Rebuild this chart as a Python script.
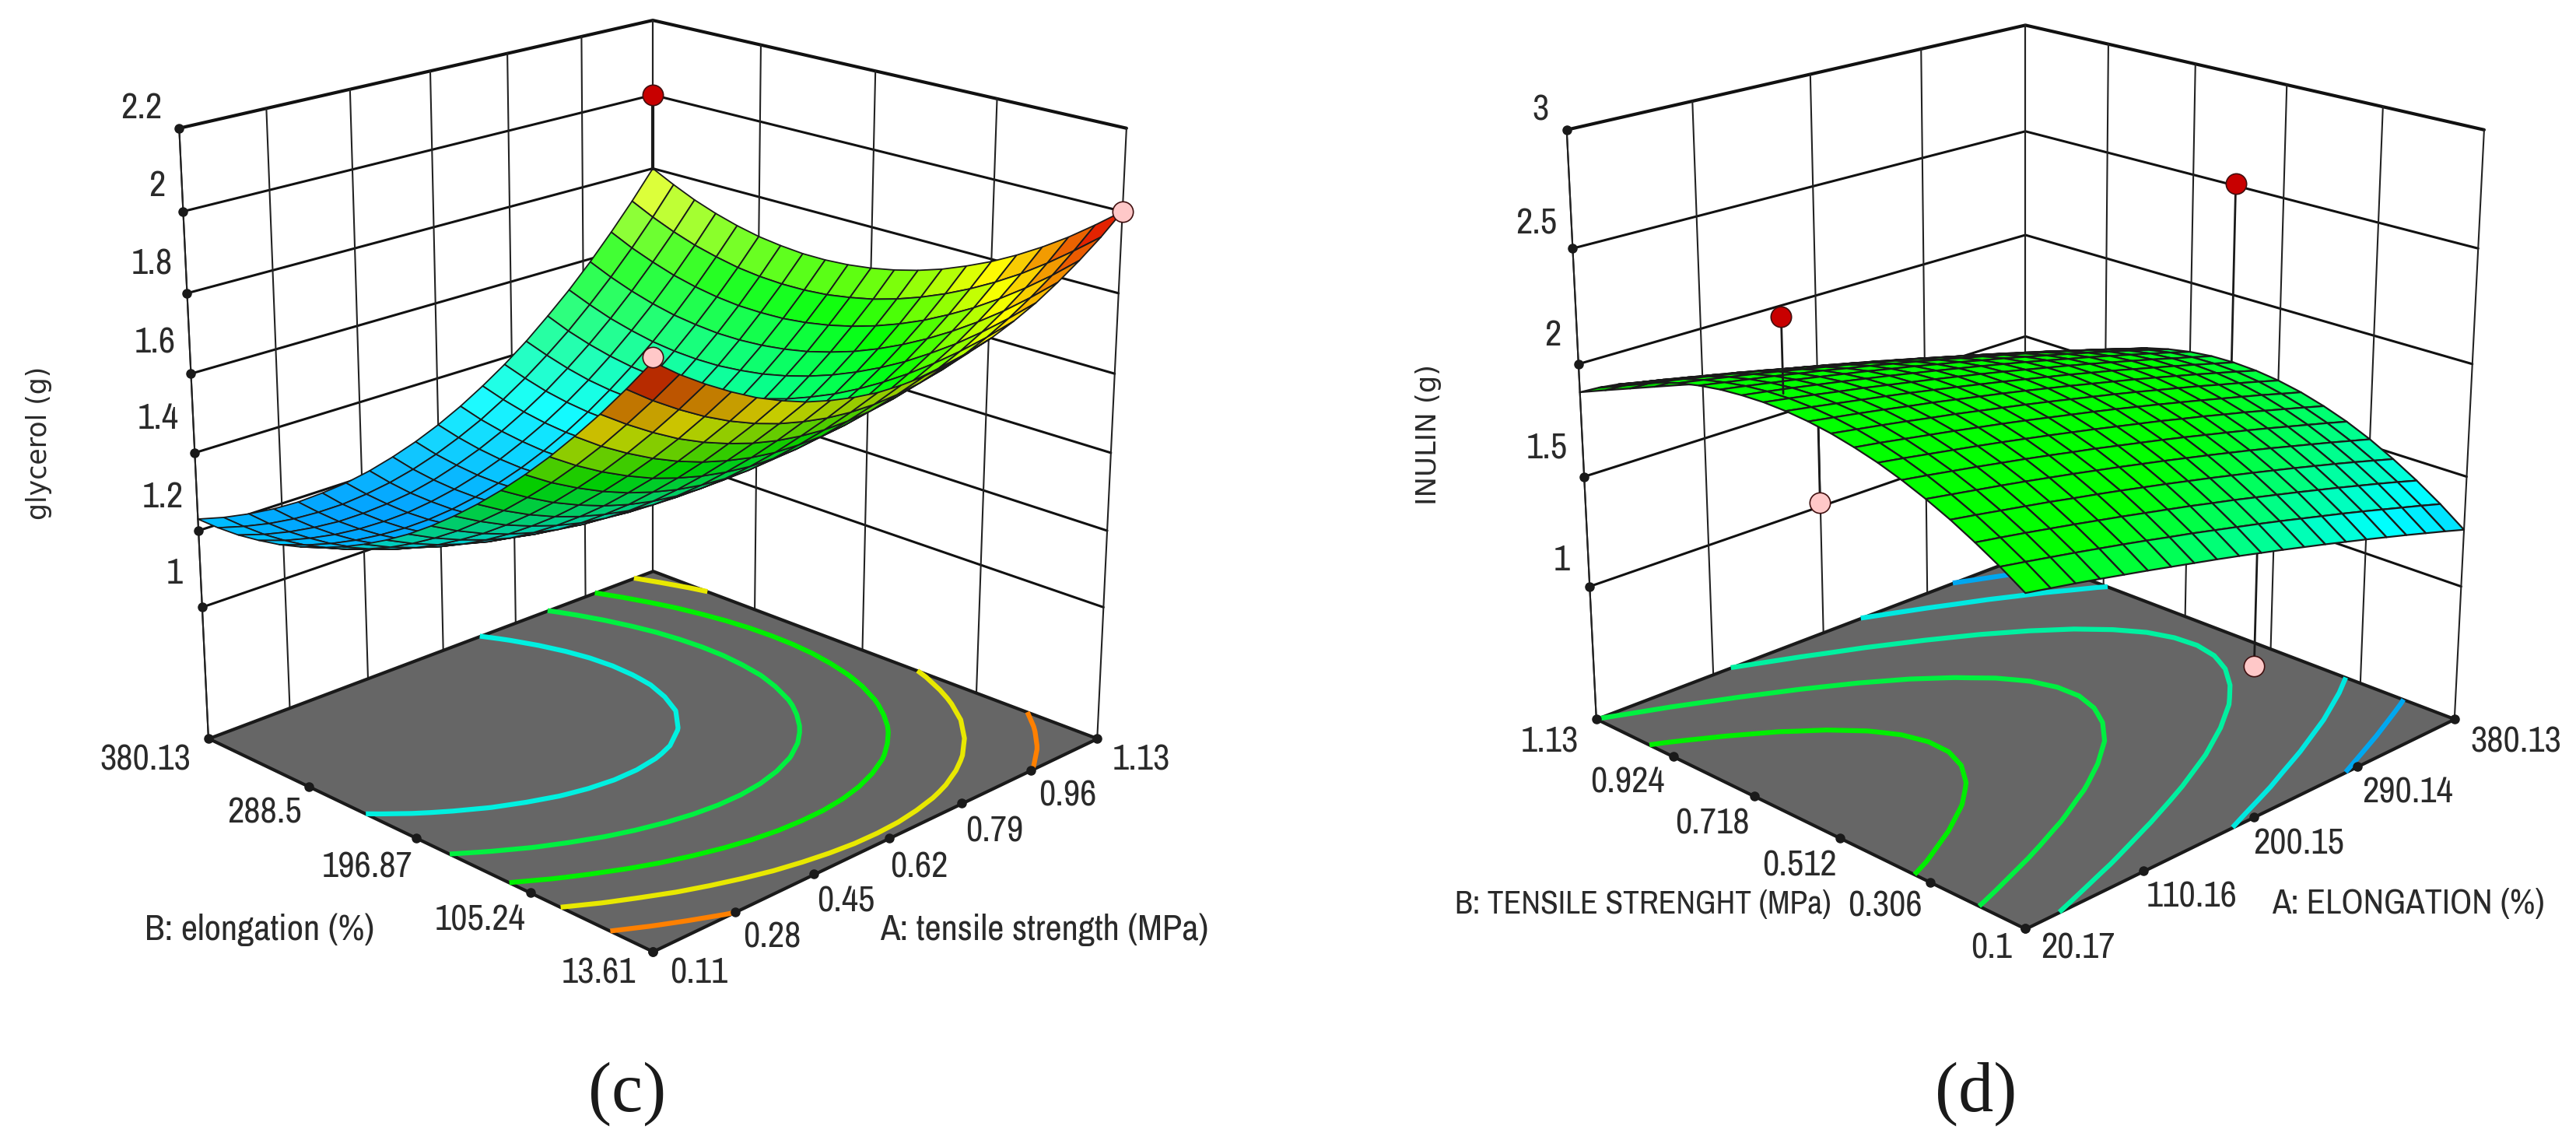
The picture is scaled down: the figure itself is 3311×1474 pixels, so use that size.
import numpy as np, matplotlib
matplotlib.use('Agg')
import matplotlib.pyplot as plt, seaborn as sns
from mpl_toolkits.mplot3d.art3d import Poly3DCollection

# ---------- panel (c) data ----------
C_A_TICKS = [0.11, 0.28, 0.45, 0.62, 0.79, 0.96, 1.13]
C_A_LABELS = ['0.11', '0.28', '0.45', '0.62', '0.79', '0.96', '1.13']
C_B_TICKS = [13.61, 105.24, 196.87, 288.5, 380.13]
C_B_LABELS = ['13.61', '105.24', '196.87', '288.5', '380.13']
C_Z_TICKS = [1, 1.2, 1.4, 1.6, 1.8, 2, 2.2]
C_Z_LABELS = ['1', '1.2', '1.4', '1.6', '1.8', '2', '2.2']
C_LEVELS = [1.33, 1.47, 1.6, 1.73, 1.87]
C_SURFACE = [
 [2.000,1.954,1.914,1.878,1.846,1.820,1.798,1.782,1.770,1.762,1.760,1.762,1.770,1.782,1.798,1.820,1.846,1.878,1.914,1.954,2.000],
 [1.922,1.878,1.839,1.804,1.774,1.749,1.729,1.714,1.703,1.697,1.696,1.700,1.709,1.722,1.740,1.763,1.791,1.824,1.861,1.904,1.951],
 [1.848,1.806,1.768,1.734,1.706,1.683,1.664,1.650,1.641,1.636,1.637,1.642,1.652,1.667,1.687,1.711,1.740,1.774,1.813,1.857,1.905],
 [1.779,1.737,1.701,1.669,1.642,1.620,1.603,1.590,1.582,1.580,1.581,1.588,1.600,1.616,1.637,1.663,1.693,1.729,1.769,1.814,1.864],
 [1.713,1.673,1.638,1.608,1.582,1.562,1.546,1.535,1.528,1.527,1.530,1.538,1.551,1.569,1.591,1.619,1.651,1.688,1.729,1.776,1.827],
 [1.652,1.613,1.580,1.551,1.527,1.508,1.493,1.483,1.478,1.478,1.483,1.493,1.507,1.526,1.550,1.579,1.612,1.651,1.694,1.742,1.794],
 [1.595,1.558,1.525,1.498,1.475,1.457,1.444,1.436,1.433,1.434,1.440,1.451,1.467,1.487,1.513,1.543,1.578,1.618,1.662,1.712,1.766],
 [1.542,1.506,1.475,1.449,1.428,1.412,1.400,1.393,1.391,1.394,1.401,1.414,1.431,1.453,1.480,1.511,1.548,1.589,1.635,1.686,1.741],
 [1.493,1.459,1.429,1.405,1.385,1.370,1.360,1.354,1.354,1.358,1.367,1.381,1.399,1.423,1.451,1.484,1.522,1.564,1.612,1.664,1.721],
 [1.448,1.415,1.387,1.364,1.346,1.332,1.323,1.319,1.320,1.326,1.336,1.352,1.372,1.396,1.426,1.460,1.500,1.544,1.593,1.646,1.705],
 [1.407,1.376,1.350,1.328,1.311,1.299,1.291,1.289,1.291,1.298,1.310,1.327,1.348,1.374,1.405,1.441,1.482,1.527,1.578,1.633,1.693],
 [1.371,1.341,1.316,1.296,1.280,1.269,1.264,1.262,1.266,1.275,1.288,1.306,1.329,1.356,1.389,1.426,1.468,1.515,1.567,1.623,1.685],
 [1.339,1.310,1.287,1.268,1.254,1.244,1.240,1.240,1.245,1.255,1.270,1.289,1.314,1.343,1.377,1.415,1.459,1.507,1.560,1.618,1.681],
 [1.311,1.284,1.261,1.244,1.231,1.223,1.220,1.222,1.228,1.240,1.256,1.277,1.303,1.333,1.368,1.409,1.453,1.503,1.558,1.617,1.681],
 [1.287,1.261,1.240,1.224,1.213,1.206,1.205,1.208,1.216,1.229,1.246,1.269,1.296,1.328,1.364,1.406,1.452,1.503,1.559,1.620,1.686],
 [1.267,1.243,1.223,1.209,1.199,1.194,1.194,1.198,1.207,1.222,1.241,1.264,1.293,1.326,1.365,1.407,1.455,1.508,1.565,1.627,1.694],
 [1.251,1.228,1.210,1.197,1.189,1.185,1.186,1.192,1.203,1.219,1.239,1.264,1.294,1.329,1.369,1.413,1.462,1.516,1.575,1.639,1.707],
 [1.240,1.218,1.202,1.190,1.183,1.181,1.183,1.191,1.203,1.220,1.242,1.269,1.300,1.336,1.377,1.423,1.474,1.529,1.589,1.654,1.724],
 [1.232,1.212,1.197,1.187,1.181,1.181,1.185,1.193,1.207,1.226,1.249,1.277,1.310,1.347,1.390,1.437,1.489,1.546,1.608,1.674,1.745],
 [1.229,1.211,1.197,1.188,1.184,1.184,1.190,1.200,1.215,1.235,1.260,1.289,1.324,1.363,1.407,1.455,1.509,1.567,1.630,1.698,1.771],
 [1.230,1.213,1.201,1.193,1.190,1.193,1.199,1.211,1.228,1.249,1.275,1.306,1.342,1.382,1.427,1.478,1.532,1.592,1.657,1.726,1.800],
]
C_RED_A, C_RED_B, C_RED_Z, C_RED_BASE = 1.13, 380.13, 2.0, 1.80
C_PINK_A = [0.11, 1.13]
C_PINK_B = [13.61, 13.61]
C_PINK_Z = [2.01, 2.0]

# ---------- panel (d) data ----------
D_A_TICKS = [20.17, 110.16, 200.15, 290.14, 380.13]
D_A_LABELS = ['20.17', '110.16', '200.15', '290.14', '380.13']
D_B_TICKS = [0.1, 0.306, 0.512, 0.718, 0.924, 1.13]
D_B_LABELS = ['0.1', '0.306', '0.512', '0.718', '0.924', '1.13']
D_Z_TICKS = [1, 1.5, 2, 2.5, 3]
D_Z_LABELS = ['1', '1.5', '2', '2.5', '3']
D_LEVELS = [1.42, 1.56, 1.73, 1.876, 2.007]
D_SURFACE = [
 [1.758,1.738,1.718,1.697,1.675,1.653,1.630,1.607,1.584,1.560,1.535,1.510,1.484,1.458,1.431,1.404,1.376,1.348,1.319,1.290,1.260],
 [1.823,1.804,1.784,1.764,1.743,1.722,1.700,1.677,1.655,1.631,1.607,1.583,1.558,1.532,1.506,1.480,1.453,1.425,1.397,1.369,1.340],
 [1.881,1.863,1.844,1.824,1.804,1.783,1.762,1.740,1.718,1.696,1.672,1.649,1.624,1.599,1.574,1.548,1.522,1.495,1.468,1.440,1.411],
 [1.934,1.916,1.897,1.878,1.859,1.838,1.818,1.797,1.775,1.753,1.730,1.707,1.683,1.659,1.634,1.609,1.583,1.557,1.530,1.502,1.474],
 [1.980,1.962,1.944,1.926,1.907,1.887,1.867,1.846,1.825,1.803,1.781,1.758,1.735,1.711,1.687,1.662,1.636,1.610,1.584,1.557,1.530],
 [2.020,2.003,1.985,1.967,1.948,1.929,1.909,1.888,1.868,1.846,1.824,1.802,1.779,1.755,1.731,1.707,1.682,1.656,1.630,1.604,1.577],
 [2.054,2.037,2.019,2.001,1.983,1.964,1.944,1.924,1.903,1.882,1.860,1.838,1.816,1.792,1.769,1.744,1.720,1.694,1.668,1.642,1.615],
 [2.081,2.065,2.047,2.029,2.011,1.992,1.973,1.953,1.932,1.911,1.890,1.868,1.845,1.822,1.798,1.774,1.749,1.724,1.699,1.672,1.646],
 [2.103,2.086,2.069,2.051,2.032,2.014,1.994,1.974,1.954,1.933,1.911,1.889,1.867,1.844,1.820,1.796,1.772,1.746,1.721,1.695,1.668],
 [2.118,2.101,2.084,2.066,2.047,2.029,2.009,1.989,1.969,1.948,1.926,1.904,1.881,1.858,1.835,1.811,1.786,1.761,1.735,1.709,1.682],
 [2.127,2.110,2.092,2.074,2.056,2.037,2.017,1.997,1.976,1.955,1.933,1.911,1.889,1.865,1.842,1.817,1.792,1.767,1.741,1.715,1.688],
 [2.130,2.113,2.095,2.076,2.058,2.038,2.018,1.998,1.977,1.956,1.934,1.911,1.888,1.865,1.841,1.816,1.791,1.766,1.739,1.713,1.686],
 [2.126,2.109,2.091,2.072,2.053,2.033,2.013,1.992,1.971,1.949,1.927,1.904,1.881,1.857,1.832,1.808,1.782,1.756,1.730,1.703,1.675],
 [2.117,2.099,2.080,2.061,2.041,2.021,2.001,1.979,1.958,1.935,1.913,1.889,1.866,1.841,1.816,1.791,1.765,1.739,1.712,1.684,1.656],
 [2.101,2.082,2.063,2.044,2.023,2.003,1.981,1.960,1.937,1.915,1.891,1.867,1.843,1.818,1.793,1.767,1.741,1.714,1.686,1.658,1.630],
 [2.079,2.060,2.040,2.020,1.999,1.977,1.955,1.933,1.910,1.887,1.863,1.838,1.813,1.788,1.762,1.735,1.708,1.680,1.652,1.624,1.594],
 [2.051,2.031,2.010,1.989,1.968,1.945,1.923,1.900,1.876,1.852,1.827,1.802,1.776,1.750,1.723,1.696,1.668,1.639,1.611,1.581,1.551],
 [2.016,1.996,1.974,1.952,1.930,1.907,1.883,1.859,1.835,1.810,1.784,1.758,1.731,1.704,1.677,1.648,1.620,1.590,1.561,1.530,1.500],
 [1.976,1.954,1.932,1.909,1.885,1.861,1.837,1.812,1.786,1.760,1.734,1.707,1.679,1.651,1.623,1.593,1.564,1.534,1.503,1.472,1.440],
 [1.929,1.906,1.883,1.859,1.834,1.809,1.784,1.758,1.731,1.704,1.677,1.648,1.620,1.591,1.561,1.531,1.500,1.469,1.437,1.405,1.372],
 [1.876,1.852,1.827,1.802,1.777,1.751,1.724,1.697,1.669,1.641,1.612,1.583,1.553,1.523,1.492,1.460,1.429,1.396,1.363,1.330,1.296],
]
D_RED_A = [41.77, 380.13]
D_RED_B = [0.692, 0.62]
D_RED_Z = [2.43, 2.51]
D_RED_BASE = [2.11, 1.69]
D_PINK_A = [36.4, 207.35]
D_PINK_B = [0.594, 0.126]
D_PINK_Z = [1.73, 1.01]
D_PINK_TOP = [2.10, 1.57]

sns.set_theme(style='white')
W, H = 3311, 1474
fig = plt.figure(figsize=(W / 100, H / 100), dpi=100)
cmap = sns.blend_palette(['#0080ff', '#00ffff', '#00ff00', '#ffff00', '#e01000'], n_colors=256, as_cmap=True)

ov = fig.add_axes([0, 0, 1, 1], zorder=50)
ov.set_xlim(0, W); ov.set_ylim(H, 0); ov.axis('off')
FONT = ['Archivo Narrow', 'Open Sans']
TC = '#2a2a2a'

def label(x, y, s, ha='center', size=33.5, fam=FONT, rot=0, c=TC):
    ov.text(x, y, s, ha=ha, va='center', fontsize=size, family=fam, rotation=rot, color=c)

RED, PINK = '#c80000', '#ffc8c8'

def panel(geom, a_t, b_t, z_t, levels, level_cols, table, z_stops, u_stops, spec, mesh_lw):
    el, f, k, S, left, top, zb = geom
    ax = fig.add_axes([left / W, 1 - (top + S) / H, S / W, S / H], projection='3d', computed_zorder=False)
    ax.set_axis_off()
    ax.view_init(el, -135)
    ax.set_proj_type('persp', focal_length=f)
    ax.set_box_aspect((1, 1, k), zoom=1)
    x0, x1, y0, y1, zt = a_t[0], a_t[-1], b_t[0], b_t[-1], z_t[-1]
    Z = np.array(table)
    X, Y = np.meshgrid(np.linspace(x0, x1, Z.shape[1]), np.linspace(y0, y1, Z.shape[0]))
    def lims():
        ax.set_xlim(x0, x1); ax.set_ylim(y0, y1); ax.set_zlim(zb, zt)
    lims()
    for z in z_t:
        ax.plot([x0, x1, x1], [y1, y1, y0], [z, z, z], color='#111111', lw=3 if z == zt else 2.2, zorder=1)
    for xv in a_t:
        ax.plot([xv, xv], [y1, y1], [zb, zt], color='#222222', lw=1.5, zorder=1)
    for yv in b_t:
        ax.plot([x1, x1], [yv, yv], [zb, zt], color='#222222', lw=1.5, zorder=1)
    ax.plot([x0, x0], [y1, y1], [zb, zt], color='#222222', lw=1.5, zorder=1)
    floor = Poly3DCollection([[(x0, y0, zb), (x1, y0, zb), (x1, y1, zb), (x0, y1, zb)]],
                             facecolor='#666666', edgecolor='k', linewidth=3, zorder=2)
    ax.add_collection3d(floor, autolim=False)
    cs = ax.contour(X, Y, Z, levels=levels, colors=level_cols, zdir='z', offset=zb, linewidths=4.5)
    cs.set_zorder(3)

    zm = (Z[:-1, :-1] + Z[1:, :-1] + Z[:-1, 1:] + Z[1:, 1:]) / 4
    fc = cmap(np.interp(zm, z_stops, u_stops))
    bx = np.array([1, 1, k], float)
    bx = bx * 1.8294640721620434 * 25 / 24 / np.linalg.norm(bx)
    PX = (X - x0) / (x1 - x0) * bx[0]; PY = (Y - y0) / (y1 - y0) * bx[1]; PZ = (Z - zb) / (zt - zb) * bx[2]
    P = np.stack([PX, PY, PZ], -1)
    nn = np.cross(P[:-1, 1:] - P[:-1, :-1], P[1:, :-1] - P[:-1, :-1])
    nn /= np.linalg.norm(nn, axis=-1, keepdims=True)
    er, az = np.radians(el), np.radians(-135)
    eye = bx / 2 + 10 * f * np.array([np.cos(er) * np.cos(az), np.cos(er) * np.sin(az), np.sin(er)])
    vv = eye - P[:-1, :-1]
    vv /= np.linalg.norm(vv, axis=-1, keepdims=True)
    dt = np.sum(nn * vv, -1)
    t = spec * np.clip(dt, 0, 1) ** 4
    rgb = fc[..., :3] * (1 - t[..., None]) + t[..., None]
    rgb[dt < 0] = fc[..., :3][dt < 0] * .8
    fc[..., :3] = rgb
    surf = ax.plot_surface(X, Y, Z, facecolors=fc, shade=False, rstride=1, cstride=1, zorder=5, linewidth=mesh_lw)
    surf.set_edgecolor('k'); surf.set_linewidth(mesh_lw)
    lims()
    ax.plot([x0] * len(z_t), [y1] * len(z_t), z_t, 'o', color='k', ms=8, zorder=6)
    ax.plot(a_t, [y0] * len(a_t), [zb] * len(a_t), 'o', color='k', ms=8, zorder=6)
    ax.plot([x0] * len(b_t), b_t, [zb] * len(b_t), 'o', color='k', ms=8, zorder=6)
    return ax

def dot(ax, x, y, z, col, zo):
    ax.plot([x], [y], [z], 'o', mfc=col, mec='#401010', mew=1.2, ms=19, zorder=zo)

# panel (c)
axc = panel((20.0, .59, 1.0, 1401.5, 119.4, -112.5, .65), C_A_TICKS, C_B_TICKS, C_Z_TICKS, C_LEVELS,
            ['#00f0e0', '#00f040', '#00f000', '#e8e800', '#ff8000'], C_SURFACE,
            [1.13, 1.33, 1.6, 1.78, 1.97, 2.1], [0, .26, .5, .75, 1, 1], .5, 1.3)
axc.plot([C_RED_A, C_RED_A], [C_RED_B, C_RED_B], [C_RED_BASE, C_RED_Z], color='k', lw=3, zorder=6)
dot(axc, C_RED_A, C_RED_B, C_RED_Z, RED, 7)
for a_, b_, z_ in zip(C_PINK_A, C_PINK_B, C_PINK_Z):
    dot(axc, a_, b_, z_, PINK, 7)

# panel (d)
axd = panel((20.25, .57, 1.0, 1355.2, 1907.4, -101.3, .38), D_A_TICKS, D_B_TICKS, D_Z_TICKS, D_LEVELS,
            ['#00a8f0', '#00e8e0', '#00f0a0', '#00f040', '#00ee00'], D_SURFACE,
            [1.0, 1.4, 1.78, 3.0], [0, .25, .5, .5], 0, 1.6)
sticks_over = [True, False]
for a_, b_, z_, base, over in zip(D_RED_A, D_RED_B, D_RED_Z, D_RED_BASE, sticks_over):
    axd.plot([a_, a_], [b_, b_], [base, z_], color='k', lw=2, zorder=6 if over else 4)
    dot(axd, a_, b_, z_, RED, 7)
for a_, b_, z_, tp in zip(D_PINK_A, D_PINK_B, D_PINK_Z, D_PINK_TOP):
    axd.plot([a_, a_], [b_, b_], [z_, tp], color='k', lw=2, zorder=4)
    dot(axd, a_, b_, z_, PINK, 4)

# texts
for (x, y), s in zip([(235, 737), (236, 639), (230, 538), (226, 440), (222, 339), (212, 239), (208, 139)], C_Z_LABELS):
    label(x, y, s, ha='right')
for (x, y), s in zip([(2018, 720), (2015, 575), (2006, 431), (2001, 287), (1991, 141)], D_Z_LABELS):
    label(x, y, s, ha='right')
for (x, y), s in zip([(898, 1250), (992, 1204), (1087, 1159), (1181, 1114), (1278, 1068), (1372, 1022), (1467, 976)], C_A_LABELS):
    label(x, y, s)
for (x, y), s in zip([(770, 1250), (617, 1182), (472, 1114), (340, 1044.5), (187, 976)], C_B_LABELS):
    label(x, y, s)
for (x, y), s in zip([(2671, 1218), (2817, 1152), (2955, 1085), (3094, 1018), (3234, 953)], D_A_LABELS):
    label(x, y, s)
for (x, y), s in zip([(2560, 1218), (2423, 1165), (2313, 1112), (2201, 1059), (2092, 1005), (1992, 953)], D_B_LABELS):
    label(x, y, s)
label(334, 1195, 'B: elongation (%)')
label(1342, 1195, 'A: tensile strength (MPa)')
label(2112, 1162, 'B: TENSILE STRENGHT (MPa)', size=30)
label(3095, 1162, 'A: ELONGATION (%)', size=32)
label(50, 569, 'glycerol (g)', size=25, fam=['DejaVu Sans'], rot=90)
label(1836, 558, 'INULIN (g)', size=25.5, fam=['DejaVu Sans'], rot=90)
label(806, 1406, '(c)', size=65, fam=['Liberation Serif'], c='k')
label(2540, 1406, '(d)', size=65, fam=['Liberation Serif'], c='k')
fig.savefig('out.png', dpi=100)
